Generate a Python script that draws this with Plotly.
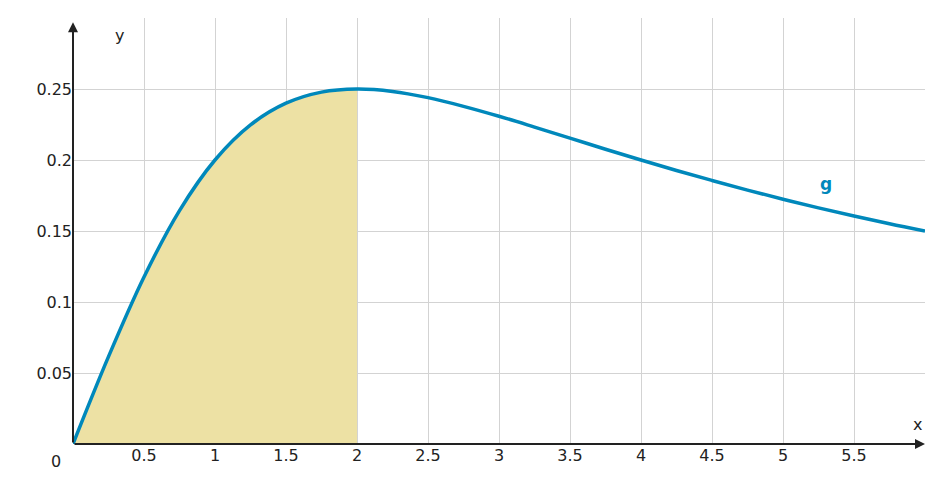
import plotly.graph_objects as go

x_vals = [0, 0.25, 0.5, 0.75, 1, 1.25, 1.5, 1.75, 2, 2.25, 2.5, 2.75, 3, 3.25, 3.5, 3.75,
          4, 4.25, 4.5, 4.75, 5, 5.25, 5.5, 5.75, 6]
g_vals = [0, 0.0615, 0.1176, 0.1644, 0.2, 0.2247, 0.24, 0.2478, 0.25, 0.2483, 0.2439, 0.2378,
          0.2308, 0.2232, 0.2154, 0.2076, 0.2, 0.1926, 0.1856, 0.1788, 0.1724, 0.1663, 0.1606,
          0.1551, 0.15]
fill_end = 2
x_ticks = [0.5, 1, 1.5, 2, 2.5, 3, 3.5, 4, 4.5, 5, 5.5]
x_tick_text = ["0.5", "1", "1.5", "2", "2.5", "3", "3.5", "4", "4.5", "5", "5.5"]
y_ticks = [0.05, 0.1, 0.15, 0.2, 0.25]
y_tick_text = ["0.05", "0.1", "0.15", "0.2", "0.25"]

fx = [x for x in x_vals if x <= fill_end]
fy = g_vals[:len(fx)]

fig = go.Figure()
fig.add_trace(go.Scatter(x=fx, y=fy, fill="tozeroy", fillcolor="#ede1a4", mode="none",
                         line=dict(shape="spline")))
fig.add_trace(go.Scatter(x=x_vals, y=g_vals, mode="lines",
                         line=dict(color="#0088bb", width=3.5, shape="spline")))

font = dict(family="DejaVu Sans", size=16, color="#222")
fig.update_layout(
    width=942, height=491, showlegend=False,
    margin=dict(l=65, r=25, t=10, b=55),
    plot_bgcolor="white", paper_bgcolor="white", font=font,
    xaxis=dict(range=[0, 6], tickvals=x_ticks, ticktext=x_tick_text, showgrid=True,
               gridcolor="#d3d3d3", gridwidth=1, zeroline=False, showline=False, ticks=""),
    yaxis=dict(range=[0, 0.3], tickvals=y_ticks, ticktext=y_tick_text, showgrid=True,
               gridcolor="#d3d3d3", gridwidth=1, zeroline=False, showline=False, ticks=""),
    annotations=[
        dict(x=6.0, y=0, ax=0, ay=0, xref="x", yref="y", axref="x", ayref="y",
             showarrow=True, arrowhead=2, arrowsize=1, arrowwidth=2, arrowcolor="#222", text=""),
        dict(x=0, y=0.297, ax=0, ay=0, xref="x", yref="y", axref="x", ayref="y",
             showarrow=True, arrowhead=2, arrowsize=1, arrowwidth=2, arrowcolor="#222", text=""),
        dict(x=5.95, y=0.014, xref="x", yref="y", text="x", showarrow=False, font=font),
        dict(x=0.33, y=0.288, xref="x", yref="y", text="y", showarrow=False, font=font),
        dict(x=-0.012, y=-0.015, xref="paper", yref="paper", xanchor="right", yanchor="top",
             text="0", showarrow=False, font=font),
        dict(x=5.3, y=0.183, xref="x", yref="y", text="<b>g</b>", showarrow=False,
             font=dict(family="DejaVu Sans", size=17, color="#0088bb")),
    ],
)
fig.write_html("out.html")
